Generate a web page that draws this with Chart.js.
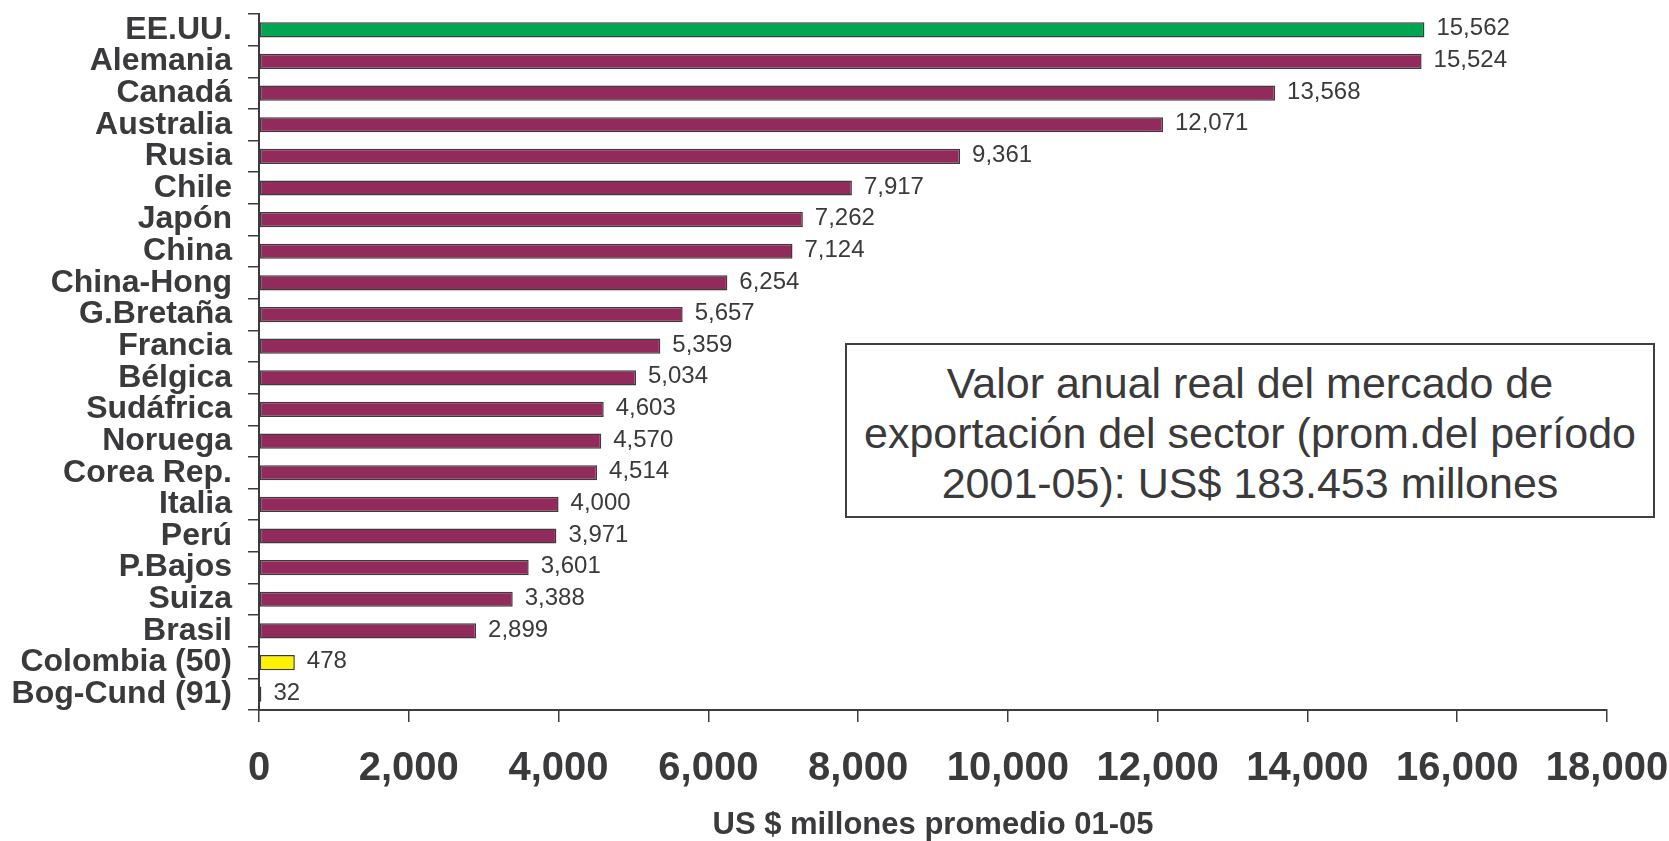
<!DOCTYPE html>
<html lang="es">
<head>
  <meta charset="UTF-8" />
  <title>Valor anual del mercado de exportación</title>
  <script src="https://cdn.jsdelivr.net/npm/chart.js"></script>
  <style>
    body {
      margin: 0;
      padding: 0;
      background: #fff;
      font-family: 'Liberation Sans', Arial, sans-serif;
    }
    .wrap {
      position: relative;
      width: 1669px;
      height: 841px;
    }
    .note {
      position: absolute;
      left: 845px;
      top: 343px;
      width: 810px;
      height: 175px;
      box-sizing: border-box;
      border: 2px solid #404040;
      background: #fff;
      padding-top: 13px;
      text-align: center;
      font-size: 43px;
      line-height: 50px;
      color: #3a3a3c;
    }
  </style>
</head>
<body>
  <div class="wrap">
    <canvas id="chart"></canvas>
    <div class="note">Valor anual real del mercado de<br>exportación del sector (prom.del período<br>2001-05): US$ 183.453 millones</div>
  </div>

  <script>
    const countries = ['EE.UU.', 'Alemania', 'Canadá', 'Australia', 'Rusia', 'Chile', 'Japón', 'China',
      'China-Hong', 'G.Bretaña', 'Francia', 'Bélgica', 'Sudáfrica', 'Noruega', 'Corea Rep.', 'Italia',
      'Perú', 'P.Bajos', 'Suiza', 'Brasil', 'Colombia (50)', 'Bog-Cund (91)'];
    const exportValues = [15562, 15524, 13568, 12071, 9361, 7917, 7262, 7124,
      6254, 5657, 5359, 5034, 4603, 4570, 4514, 4000,
      3971, 3601, 3388, 2899, 478, 32];
    const xTicks = [0, 2000, 4000, 6000, 8000, 10000, 12000, 14000, 16000, 18000];
    const axisTitle = 'US $ millones promedio 01-05';

    const GREEN = '#00a651';
    const MAROON = '#922a5c';
    const YELLOW = '#fff200';
    const INK = '#3a3a3c';
    const LINE = '#3c3c3c';
    const FONT = '"Liberation Sans", Arial, sans-serif';

    const barColors = countries.map(c => {
      if (c === 'EE.UU.') return GREEN;
      if (c.startsWith('Colombia')) return YELLOW;
      return MAROON;
    });

    const fmt = v => v.toLocaleString('en-US');

    // numbers at the end of each bar
    const valueLabels = {
      id: 'valueLabels',
      afterDatasetsDraw(chart) {
        const ctx = chart.ctx;
        const meta = chart.getDatasetMeta(0);
        ctx.save();
        ctx.font = '24px ' + FONT;
        ctx.fillStyle = INK;
        ctx.textAlign = 'left';
        ctx.textBaseline = 'middle';
        meta.data.forEach((bar, i) => {
          ctx.fillText(fmt(exportValues[i]), bar.x + 12, bar.y - 1);
        });
        ctx.restore();
      }
    };

    new Chart(document.getElementById('chart'), {
      type: 'bar',
      data: {
        labels: countries,
        datasets: [{
          data: exportValues,
          backgroundColor: barColors,
          borderColor: LINE,
          borderWidth: 1.5,
          borderSkipped: false,
          barPercentage: 0.48,
          categoryPercentage: 1
        }]
      },
      options: {
        indexAxis: 'y',
        responsive: true,
        maintainAspectRatio: false,
        animation: false,
        layout: { padding: { top: 14, right: 62, bottom: 0, left: 0 } },
        plugins: {
          legend: { display: false },
          tooltip: { enabled: false }
        },
        scales: {
          x: {
            type: 'linear',
            min: 0,
            max: 18000,
            afterBuildTicks: scale => { scale.ticks = xTicks.map(v => ({ value: v })); },
            afterFit: scale => {
              scale.height = 131;
              scale.paddingLeft = 0;
              scale.paddingRight = 0;
            },
            border: { display: true, color: LINE, width: 2 },
            grid: {
              drawOnChartArea: false,
              drawTicks: true,
              tickLength: 12,
              color: LINE,
              lineWidth: 1.5
            },
            ticks: {
              padding: 23,
              color: INK,
              maxRotation: 0,
              font: { family: FONT, size: 40, weight: 'bold' },
              callback: v => fmt(v)
            },
            title: {
              display: true,
              text: axisTitle,
              color: INK,
              padding: { top: 0, bottom: 0 },
              font: { family: FONT, size: 31, weight: 'bold', lineHeight: 1.0 }
            }
          },
          y: {
            afterFit: scale => {
              scale.width = 259;
              scale.paddingTop = 0;
              scale.paddingBottom = 0;
            },
            border: { display: true, color: LINE, width: 2 },
            grid: {
              offset: true,
              drawOnChartArea: false,
              drawTicks: true,
              tickLength: 11,
              color: LINE,
              lineWidth: 1.5
            },
            ticks: {
              padding: 16,
              color: INK,
              autoSkip: false,
              font: { family: FONT, size: 32, weight: 'bold' }
            }
          }
        }
      },
      plugins: [valueLabels]
    });
  </script>
</body>
</html>
